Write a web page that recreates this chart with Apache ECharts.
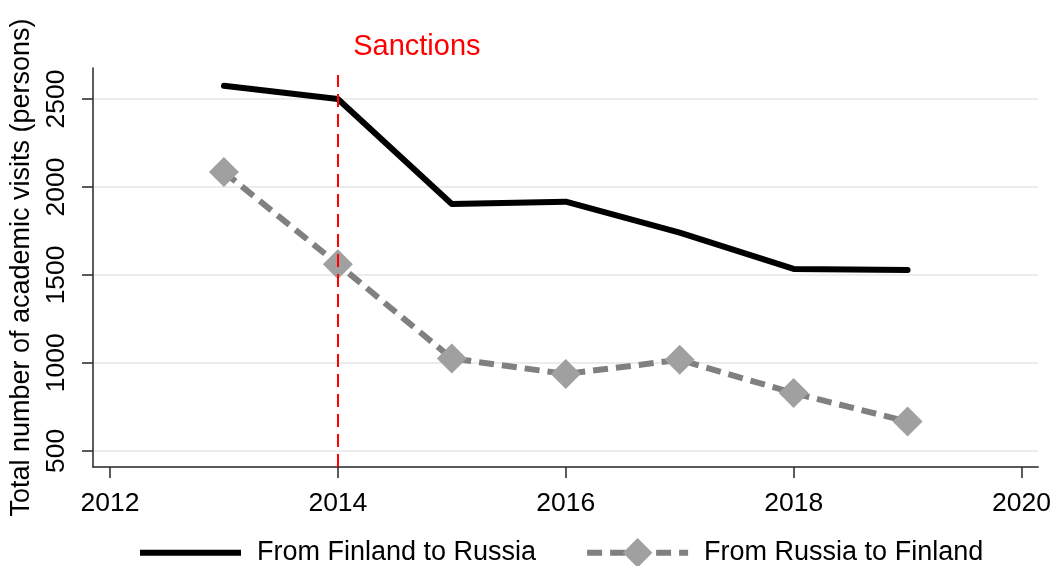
<!DOCTYPE html>
<html>
<head>
<meta charset="utf-8">
<script src="https://cdn.jsdelivr.net/npm/echarts@6/dist/echarts.min.js"></script>
<style>
html,body{margin:0;padding:0;background:#fff;}
#chart{width:1054px;height:566px;}
</style>
</head>
<body>
<div id="chart"></div>
<script>
const years = [2013, 2014, 2015, 2016, 2017, 2018, 2019];
const finlandToRussia = [2575, 2500, 1903, 1916, 1740, 1534, 1528];
const russiaToFinland = [2085, 1561, 1025, 937, 1017, 828, 666];
const xTicks = [2012, 2014, 2016, 2018, 2020];
const yTicks = [500, 1000, 1500, 2000, 2500];
const sanctionsYear = 2014;
const seriesNames = ['From Finland to Russia', 'From Russia to Finland'];

const FONT = 'Liberation Sans, Arial, Helvetica, sans-serif';
const xMin = 2011.851, xMax = 2020.146;
const yMin = 408, yMax = 2676;

const chart = echarts.init(document.getElementById('chart'), null, {renderer: 'canvas'});
chart.setOption({
  animation: false,
  backgroundColor: '#ffffff',
  grid: {left: 93, right: 15, top: 68, bottom: 99, containLabel: false},
  xAxis: {
    type: 'value', min: xMin, max: xMax,
    axisLine: {show: true, onZero: false, lineStyle: {color: '#262626', width: 1.5}},
    axisTick: {show: true, length: 11, customValues: xTicks, lineStyle: {color: '#262626', width: 1.5}},
    axisLabel: {customValues: xTicks, margin: 23, color: '#000', fontSize: 26.5, fontFamily: FONT,
      formatter: v => String(v)},
    splitLine: {show: false}
  },
  yAxis: {
    type: 'value', min: yMin, max: yMax,
    name: 'Total number of academic visits (persons)',
    nameLocation: 'middle', nameGap: 53,
    nameTextStyle: {color: '#000', fontSize: 27, fontFamily: FONT},
    axisLine: {show: true, onZero: false, lineStyle: {color: '#262626', width: 1.5}},
    axisTick: {show: true, length: 11, customValues: yTicks, lineStyle: {color: '#262626', width: 1.5}},
    axisLabel: {customValues: yTicks, rotate: 90, margin: 23, color: '#000', fontSize: 26.5, fontFamily: FONT,
      formatter: v => String(v)},
    splitLine: {show: true, lineStyle: {color: '#e6e6e6', width: 1.5}}
  },
  legend: {
    left: 137, top: 538, padding: 0,
    itemWidth: 101, itemHeight: 37, itemGap: 48,
    lineStyle: {width: 6, cap: 'butt'},
    textStyle: {color: '#000', fontSize: 27, fontFamily: FONT, padding: [0, 0, 0, 11]},
    data: [
      {name: seriesNames[0], itemStyle: {opacity: 0}},
      {name: seriesNames[1]}
    ]
  },
  series: [
    {
      name: seriesNames[0], type: 'line',
      data: years.map((y, i) => [y, finlandToRussia[i]]),
      symbol: 'none',
      lineStyle: {color: '#000', width: 6, cap: 'round', join: 'round'},
      itemStyle: {color: '#000'},
      markLine: {
        silent: true, symbol: ['none', 'none'],
        lineStyle: {color: '#ff0000', width: 2, type: [13, 7]},
        label: {show: true, position: 'end', formatter: 'Sanctions', color: '#ff0000',
          fontSize: 29, fontFamily: FONT, offset: [79, -9]},
        data: [[{coord: [sanctionsYear, yMin]}, {coord: [sanctionsYear, 2636]}]]
      },
      z: 3
    },
    {
      name: seriesNames[1], type: 'line',
      data: years.map((y, i) => [y, russiaToFinland[i]]),
      symbol: 'diamond', symbolSize: 30, showSymbol: true,
      lineStyle: {color: '#808080', width: 6, type: [15, 8]},
      itemStyle: {color: '#a0a0a0'},
      z: 2
    }
  ]
});
</script>
</body>
</html>
